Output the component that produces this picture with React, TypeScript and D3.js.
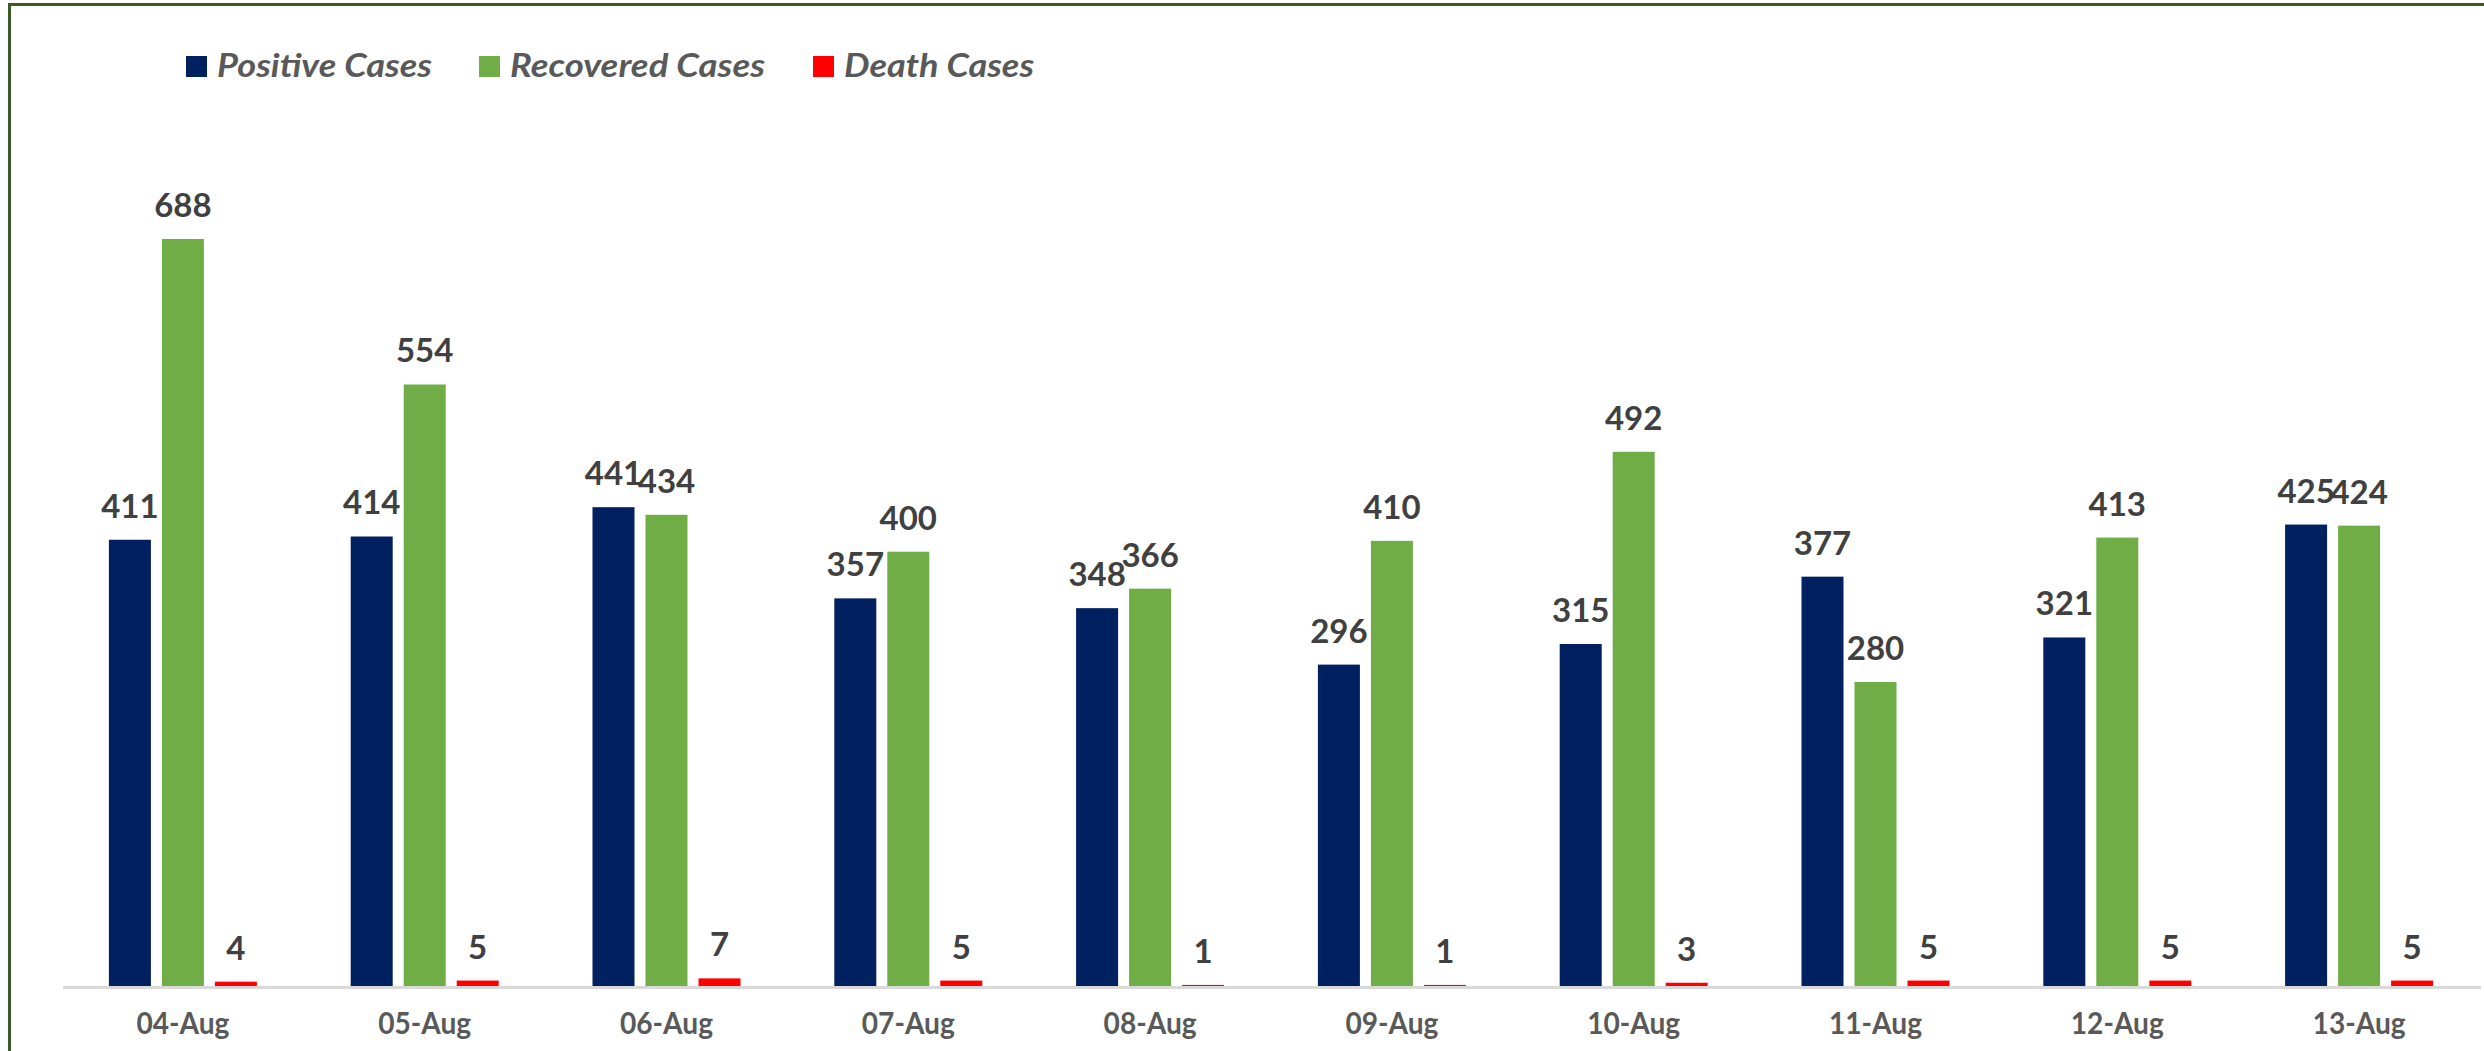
import React from "react";
import * as d3 from "d3";

const dates = ["04-Aug", "05-Aug", "06-Aug", "07-Aug", "08-Aug", "09-Aug", "10-Aug", "11-Aug", "12-Aug", "13-Aug"];
const positiveCases = [411, 414, 441, 357, 348, 296, 315, 377, 321, 425];
const recoveredCases = [688, 554, 434, 400, 366, 410, 492, 280, 413, 424];
const deathCases = [4, 5, 7, 5, 1, 1, 3, 5, 5, 5];
const seriesNames = ["Positive Cases", "Recovered Cases", "Death Cases"];
const seriesColors = ["#002060", "#70AD47", "#FF0000"];

const W = 2484;
const H = 1051;
const FONT = "Lato, 'Open Sans', 'DejaVu Sans', sans-serif";

export default function App() {
  const seriesValues = [positiveCases, recoveredCases, deathCases];
  const x0 = d3.scaleBand<string>().domain(dates).range([62, 2480]).padding(0);
  const groupW = 148;
  const x1 = d3
    .scaleBand<string>()
    .domain(seriesNames)
    .range([0, groupW])
    .paddingInner(11 / 53)
    .paddingOuter(0);
  const y = d3.scaleLinear().domain([0, 800]).range([986, 117.4]);
  const baseY = y(0);

  const legendX = [186, 479, 813];
  const legendTextW = [215, 255, 190];

  return (
    <svg
      width={W}
      height={H}
      style={{ position: "absolute", left: 0, top: 0, background: "#fff" }}
    >
      <rect x={0} y={0} width={W} height={H} fill="#ffffff" />
      {/* outer border */}
      <rect x={9.5} y={4.5} width={W + 40} height={H + 40} fill="none" stroke="#3b5a26" strokeWidth={3} />

      {/* legend */}
      {seriesNames.map((name, i) => (
        <g key={name}>
          <rect x={legendX[i]} y={56} width={21} height={21} fill={seriesColors[i]} />
          <text
            x={legendX[i] + 31}
            y={77}
            fontFamily={FONT}
            fontSize={32}
            fontWeight="bold"
            fontStyle="italic"
            fill="#595959"
            textLength={legendTextW[i]}
            lengthAdjust="spacingAndGlyphs"
          >
            {name}
          </text>
        </g>
      ))}

      {/* bars */}
      {dates.map((d, di) => {
        const gx = (x0(d) as number) + (x0.bandwidth() - groupW) / 2;
        return (
          <g key={d} transform={`translate(${gx},0)`}>
            {seriesNames.map((s, si) => {
              const v = seriesValues[si][di];
              const bx = x1(s) as number;
              const top = y(v);
              return (
                <g key={s}>
                  <rect x={bx} y={top} width={x1.bandwidth()} height={baseY - top} fill={seriesColors[si]} />
                  <text
                    x={bx + x1.bandwidth() / 2}
                    y={top - 22}
                    textAnchor="middle"
                    fontFamily={FONT}
                    fontSize={33}
                    fontWeight="bold"
                    fill="#404040"
                  >
                    {v}
                  </text>
                </g>
              );
            })}
          </g>
        );
      })}

      {/* axis line */}
      <line x1={63} x2={2481} y1={baseY + 1.5} y2={baseY + 1.5} stroke="#d9d9d9" strokeWidth={3} />

      {/* axis labels */}
      {dates.map((d) => (
        <text
          key={d}
          x={(x0(d) as number) + x0.bandwidth() / 2}
          y={1034}
          textAnchor="middle"
          fontFamily={FONT}
          fontSize={30}
          fontWeight="bold"
          fill="#595959"
          textLength={93}
          lengthAdjust="spacingAndGlyphs"
        >
          {d}
        </text>
      ))}
    </svg>
  );
}
